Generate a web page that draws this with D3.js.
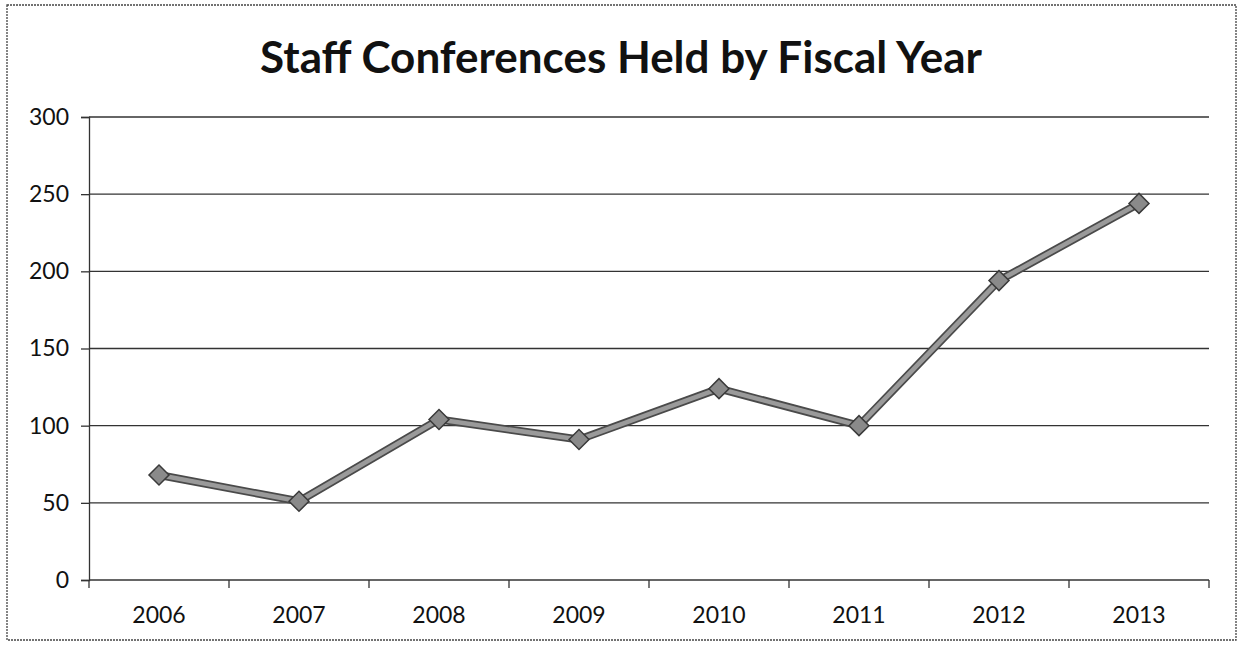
<!DOCTYPE html>
<html>
<head>
<meta charset="utf-8">
<script src="https://cdn.jsdelivr.net/npm/d3@7"></script>
<style>
  body { margin: 0; background: #fff; }
  svg { display: block; }
</style>
</head>
<body>
<svg id="chart" width="1238" height="650"></svg>
<script>
// data
let years = ['2006', '2007', '2008', '2009', '2010', '2011', '2012', '2013'];
let conferences = [68, 51, 104, 91, 124, 100, 194, 244];
let yTicks = [0, 50, 100, 150, 200, 250, 300];

var font = 'Lato, "Open Sans", sans-serif';
var svg = d3.select('#chart');

// outer frame
svg.append('rect')
    .attr('x', 7).attr('y', 5)
    .attr('width', 1229).attr('height', 635)
    .attr('fill', 'none')
    .attr('stroke', '#444')
    .attr('stroke-width', 1.3)
    .attr('stroke-dasharray', '2,1');

svg.append('text')
    .attr('x', 621).attr('y', 73)
    .attr('text-anchor', 'middle')
    .attr('font-family', font)
    .attr('font-weight', 700)
    .attr('font-size', '44px')
    .attr('fill', '#111')
    .text('Staff Conferences Held by Fiscal Year');

var x = d3.scaleBand().domain(years).range([89, 1209]);
var y = d3.scaleLinear().domain([0, 300]).range([580, 117]);

// gridlines
svg.append('g').selectAll('line')
    .data(yTicks.slice(1))
    .enter().append('line')
    .attr('x1', 89).attr('x2', 1209)
    .attr('y1', function(d) { return y(d); })
    .attr('y2', function(d) { return y(d); })
    .attr('stroke', '#333')
    .attr('stroke-width', 1.3);

// y axis
var yAxis = svg.append('g')
    .attr('transform', 'translate(89,0)')
    .call(d3.axisLeft(y).tickValues(yTicks).tickSize(8).tickPadding(12));
yAxis.select('.domain').attr('stroke', '#333').attr('stroke-width', 1.3);
yAxis.selectAll('line').attr('stroke', '#333').attr('stroke-width', 1.3);
yAxis.selectAll('text')
    .attr('font-family', font)
    .attr('font-size', '23px')
    .attr('fill', '#111');

// x axis, ticks on category boundaries
var xAxis = svg.append('g').attr('transform', 'translate(0,580)');
xAxis.append('line')
    .attr('x1', 89).attr('x2', 1209)
    .attr('stroke', '#333').attr('stroke-width', 1.3);
xAxis.selectAll('.tick')
    .data(years.concat(['end']))
    .enter().append('line')
    .attr('x1', function(d, i) { return 89 + i * x.step(); })
    .attr('x2', function(d, i) { return 89 + i * x.step(); })
    .attr('y1', 0).attr('y2', 8)
    .attr('stroke', '#333').attr('stroke-width', 1.3);
xAxis.selectAll('text')
    .data(years)
    .enter().append('text')
    .attr('x', function(d) { return x(d) + x.bandwidth() / 2; })
    .attr('y', 43)
    .attr('text-anchor', 'middle')
    .attr('font-family', font)
    .attr('font-size', '23px')
    .attr('fill', '#111')
    .text(function(d) { return d; });

// series line
var pts = years.map(function(d, i) { return [x(d) + x.bandwidth() / 2, y(conferences[i])]; });
var line = d3.line();
svg.append('path')
    .attr('d', line(pts))
    .attr('fill', 'none')
    .attr('stroke', '#4a4a4a')
    .attr('stroke-width', 8)
    .attr('stroke-linejoin', 'round');
svg.append('path')
    .attr('d', line(pts))
    .attr('fill', 'none')
    .attr('stroke', '#9a9a9a')
    .attr('stroke-width', 4.5)
    .attr('stroke-linejoin', 'round');

// diamond markers
var diamond = d3.symbol().type(d3.symbolSquare).size(200);
svg.append('g').selectAll('path')
    .data(pts)
    .enter().append('path')
    .attr('d', diamond)
    .attr('transform', function(d) { return 'translate(' + d[0] + ',' + d[1] + ') rotate(45)'; })
    .attr('fill', '#8a8a8a')
    .attr('stroke', '#3a3a3a')
    .attr('stroke-width', 1.5);
</script>
</body>
</html>
